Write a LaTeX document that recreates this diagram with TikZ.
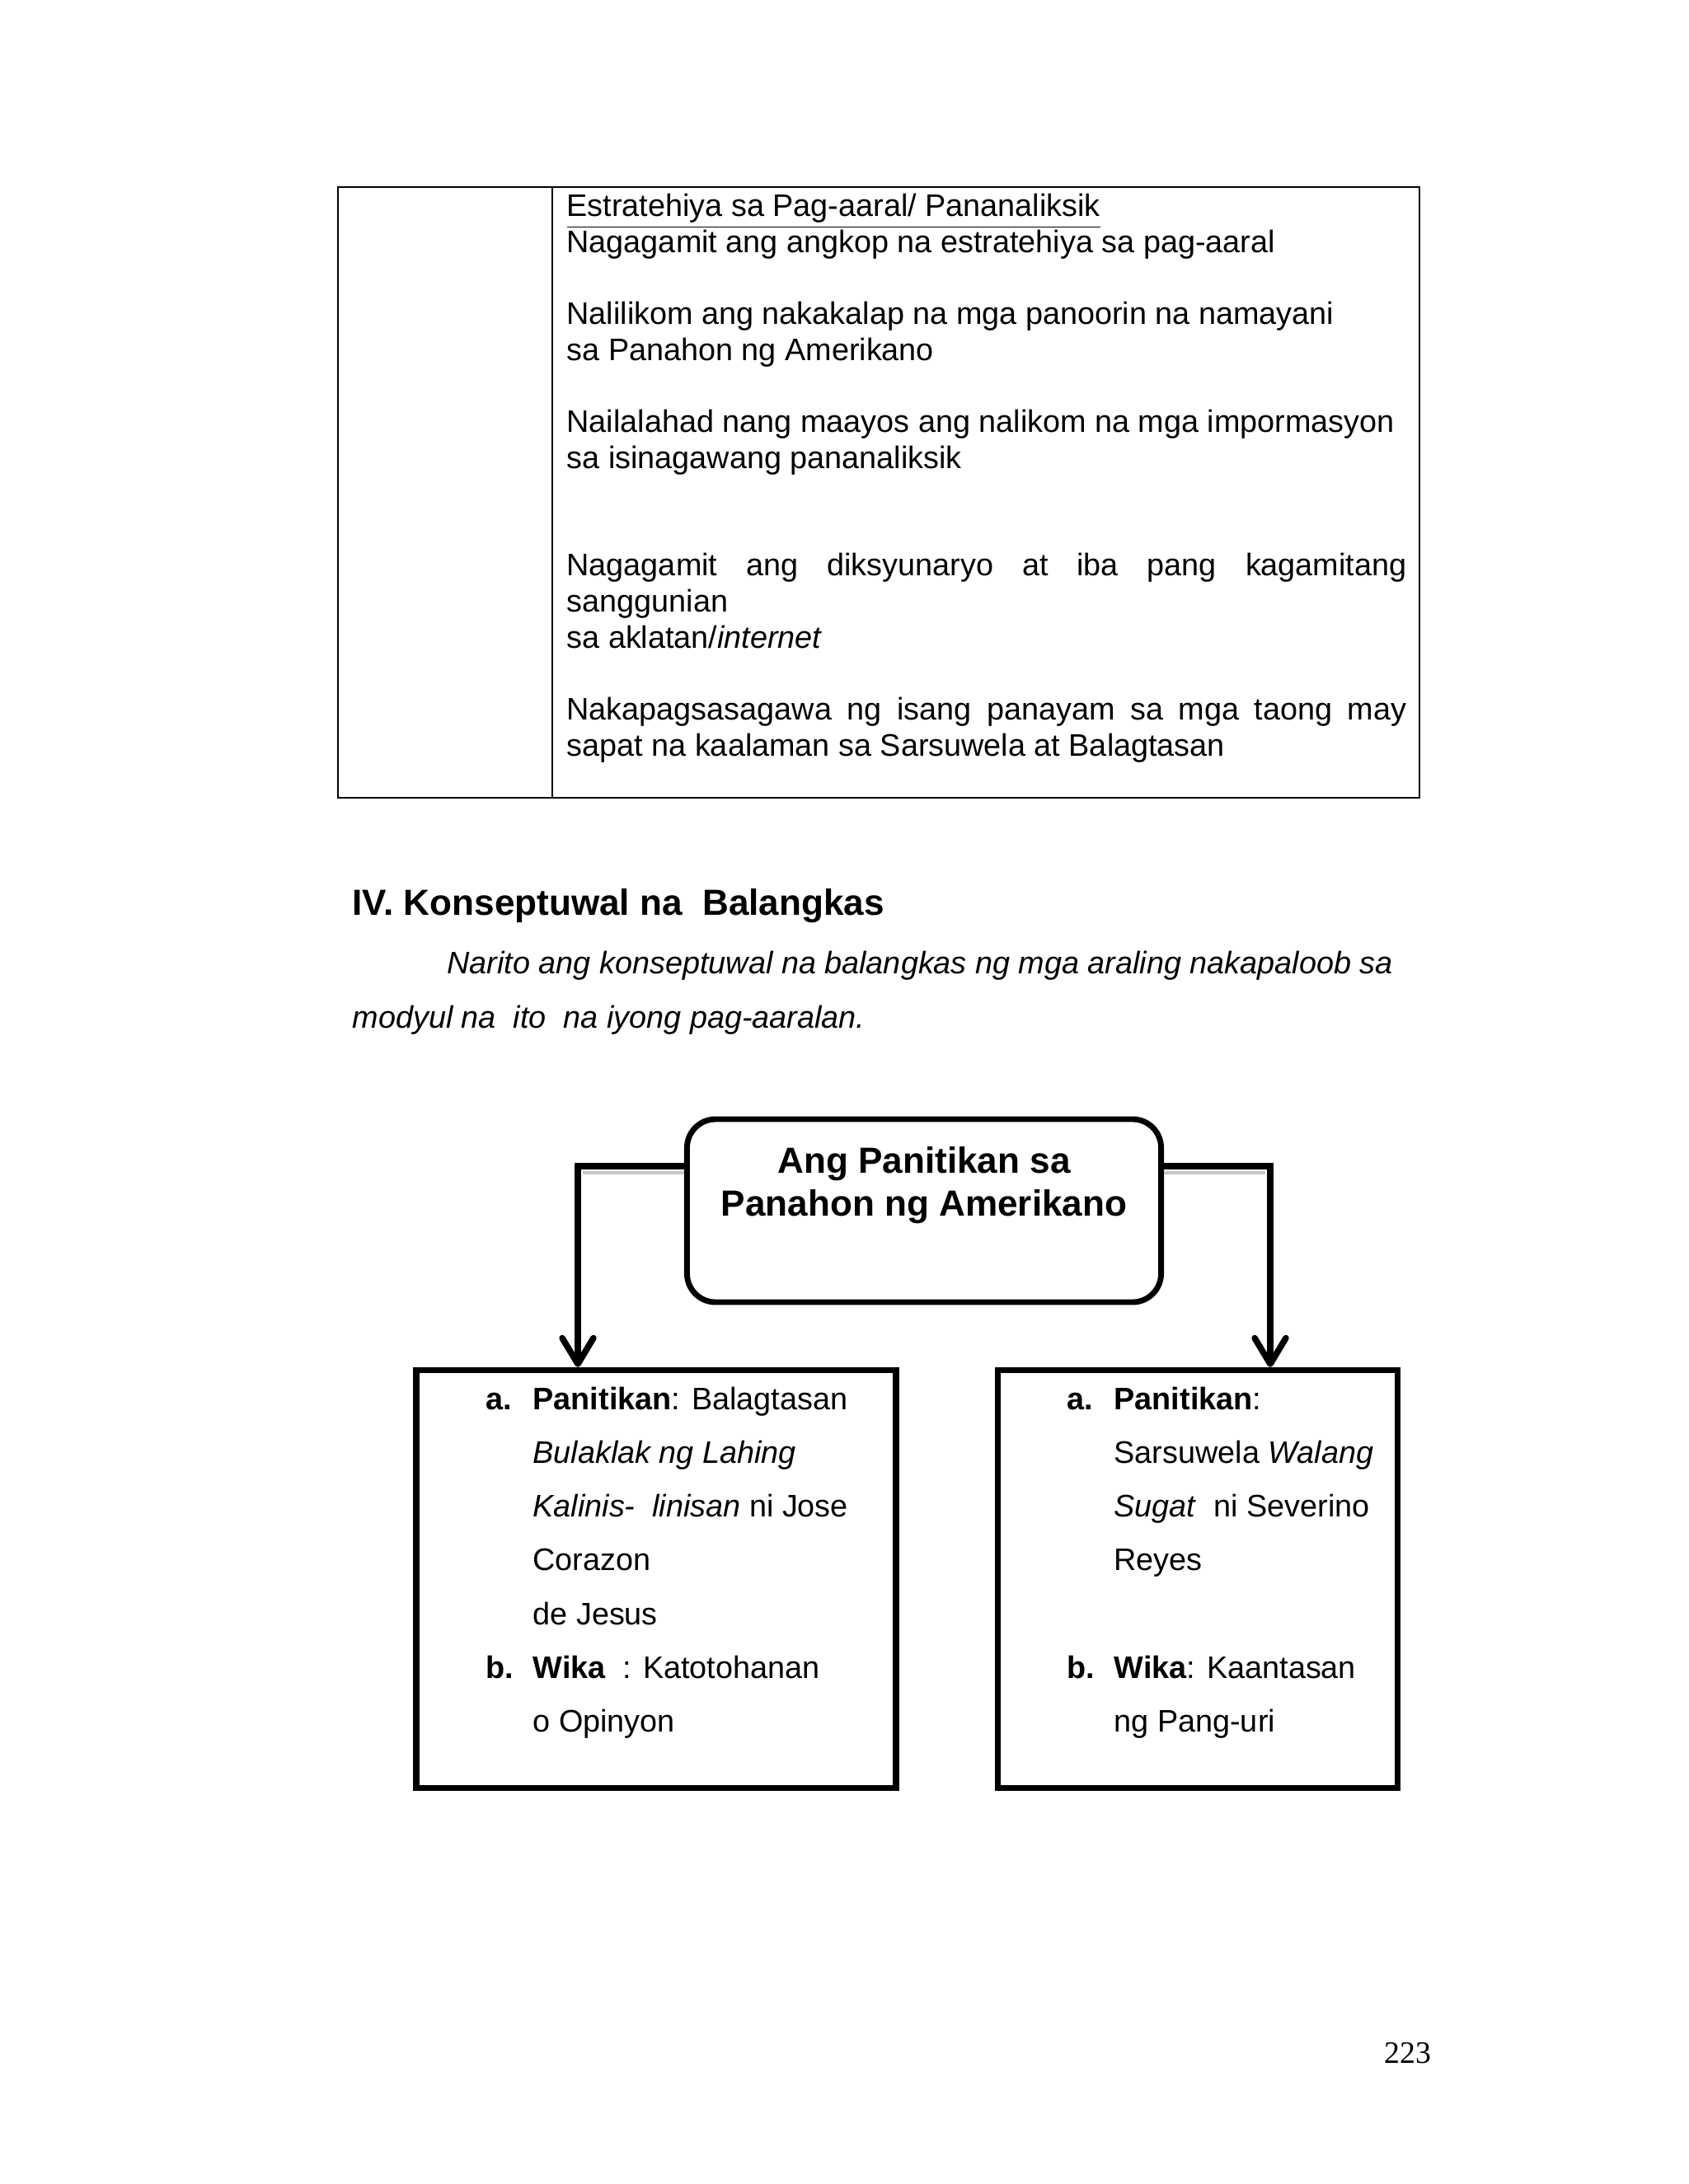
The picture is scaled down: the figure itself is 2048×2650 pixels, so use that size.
\documentclass[tikz,border=0pt]{standalone}
\usepackage{fontspec}
\setmainfont{Liberation Sans}
\newfontfamily\pahinafont{Liberation Serif}
\usetikzlibrary{arrows.meta, positioning}

\newcommand{\buongguhit}[1]{\makebox[323.5pt][s]{#1}}

\begin{document}
\begin{tikzpicture}[x=0.3175pt, y=-0.3175pt,
    talata/.style={anchor=base west, inner sep=0pt, font=\fontsize{12}{14}\selectfont},
    talatahilig/.style={talata, font=\fontsize{12}{14}\selectfont\itshape},
    pamuhatan/.style={anchor=base west, inner sep=0pt, font=\fontsize{14}{16}\selectfont\bfseries},
    pamagat/.style={rectangle, draw, line width=2.2pt, rounded corners=11pt,
                    minimum width=182.6pt, minimum height=70.5pt, inner sep=0pt},
    pamagattext/.style={anchor=base, inner sep=0pt, font=\fontsize{14}{16}\selectfont\bfseries},
    kahon/.style={rectangle, draw, line width=2.3pt, minimum height=161pt, inner sep=0pt},
    titik/.style={anchor=base west, inner sep=0pt, font=\fontsize{12}{14}\selectfont},
    tatak/.style={titik, font=\fontsize{12}{14}\selectfont\bfseries},
    daloy/.style={line width=2.4pt, line join=miter,
                  -{Straight Barb[length=10pt, width=12pt, round]}},
    anino/.style={gray!45, line width=1.2pt}]

    \useasboundingbox (0,0) rectangle (2048,2650);
    \fill[white] (0,0) rectangle (2048,2650);

    % talahanayan sa itaas
    \draw[line width=0.6pt] (410,227) rectangle (1722,968);
    \draw[line width=0.6pt] (670,227) -- (670,968);
    \foreach \k/\linya [count=\i] in {
        0/{\underline{Estratehiya sa Pag-aaral/ Pananaliksik}},
        1/{Nagagamit ang angkop na estratehiya sa pag-aaral},
        3/{Nalilikom ang nakakalap na mga panoorin na namayani},
        4/{sa Panahon ng Amerikano},
        6/{Nailalahad nang maayos ang nalikom na mga impormasyon},
        7/{sa isinagawang pananaliksik},
        10/{\buongguhit{Nagagamit ang diksyunaryo at iba pang kagamitang}},
        11/{sanggunian},
        12/{sa aklatan/\textit{internet}},
        14/{\buongguhit{Nakapagsasagawa ng isang panayam sa mga taong may}},
        15/{sapat na kaalaman sa Sarsuwela at Balagtasan}}
        \node[talata] (hanay\i) at (687, {263+43.6*\k}) {\linya};

    % pamagat at panimula
    \node[pamuhatan] (bahagi) at (427,1110) {IV. Konseptuwal na~ Balangkas};
    \node[talatahilig] (panimula1) at (542,1181) {Narito ang konseptuwal na balangkas ng mga araling nakapaloob sa};
    \node[talatahilig] (panimula2) at (427,1247) {modyul na~ ito~ na iyong pag-aaralan.};

    % balangkas
    \node[pamagat] (panitikan) at (1121,1469) {};
    \node[pamagattext] (panitikan1) at (1121,1423) {Ang Panitikan sa};
    \node[pamagattext] (panitikan2) at (1121,1475) {Panahon ng Amerikano};

    \node[kahon, minimum width=184.8pt] (kaliwa) at (796,1916) {};
    \node[kahon, minimum width=154.1pt] (kanan) at (1453,1916) {};

    \coordinate (likokaliwa) at (701,1415);
    \coordinate (likokanan) at (1541,1415);
    \draw[anino] (707,1423) -- (panitikan.west |- 0,1423);
    \draw[anino] (panitikan.east |- 0,1423) -- (1535,1423);
    \draw[daloy] (panitikan.west |- likokaliwa) -| (kaliwa.north -| likokaliwa);
    \draw[daloy] (panitikan.east |- likokanan) -| (kanan.north -| likokanan);

    % nilalaman ng kaliwang kahon
    \node[tatak] (kaliwaA) at (589,1710) {a.};
    \node[tatak] (kaliwaB) at (589,{1710+65.3*5}) {b.};
    \foreach \k/\linya in {
        0/{\textbf{Panitikan}: Balagtasan},
        1/{\textit{Bulaklak ng Lahing}},
        2/{\textit{Kalinis-~ linisan} ni Jose},
        3/{Corazon},
        4/{de Jesus},
        5/{\textbf{Wika}~ : Katotohanan},
        6/{o Opinyon}}
        \node[titik] (kaliwa\k) at (646, {1710+65.3*\k}) {\linya};

    % nilalaman ng kanang kahon
    \node[tatak] (kananA) at (1294,1710) {a.};
    \node[tatak] (kananB) at (1294,{1710+65.3*5}) {b.};
    \foreach \k/\linya in {
        0/{\textbf{Panitikan}:},
        1/{Sarsuwela \textit{Walang}},
        2/{\textit{Sugat}~ ni Severino},
        3/{Reyes},
        5/{\textbf{Wika}: Kaantasan},
        6/{ng Pang-uri}}
        \node[titik] (kanan\k) at (1351, {1710+65.3*\k}) {\linya};

    \node[anchor=base west, inner sep=0pt, font=\pahinafont\fontsize{12}{14}\selectfont] (pahina) at (1679,2503) {223};

\end{tikzpicture}
\end{document}
